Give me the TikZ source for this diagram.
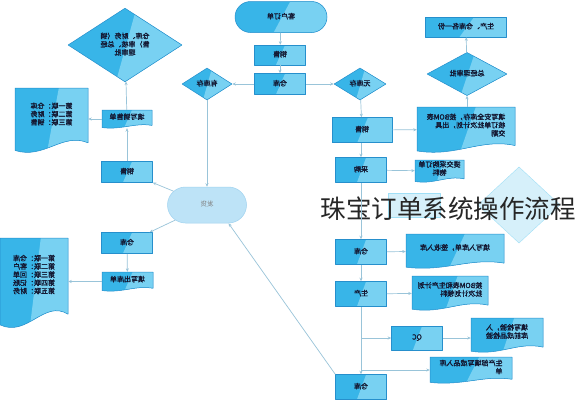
\documentclass[tikz,border=0pt]{standalone}
\usepackage{fontspec}
\setmainfont{Noto Sans CJK SC}[AutoFakeBold=2]
\usepackage{graphicx}
\usepackage{tikz}
\usetikzlibrary{arrows.meta,shapes.geometric,shapes.misc,calc}
\definecolor{boxdark}{rgb}{0.22,0.71,0.91}
\definecolor{boxlight}{rgb}{0.47,0.82,0.95}
\definecolor{boxline}{rgb}{0.15,0.56,0.80}
\definecolor{linecol}{rgb}{0.60,0.77,0.85}
\definecolor{palefill}{rgb}{0.74,0.89,0.97}
\definecolor{faintfill}{rgb}{0.84,0.94,0.98}
\definecolor{txtcol}{rgb}{0.08,0.10,0.20}
\renewcommand{\arraystretch}{0.95}
\newcommand{\mirc}[1]{\reflectbox{\begin{tabular}{@{}c@{}}#1\end{tabular}}}
\newcommand{\mirl}[1]{\reflectbox{\begin{tabular}{@{}l@{}}#1\end{tabular}}}
% wave document: name, x1, y1, x2, y2, text
\newcommand{\wavedoc}[6]{%
  \pgfmathsetmacro\dd{0.12*(#5-#3)}%
  \pgfmathsetmacro\ww{#4-#2}%
  \path[docshape] (#2,#3) -- (#4,#3) -- (#4,{#5-1.2*\dd})
    .. controls ({#4-0.35*\ww},{#5-2.6*\dd}) and ({#2+0.4*\ww},{#5+1.0*\dd}) .. (#2,{#5-0.2*\dd}) -- cycle;
  \node[doctext, minimum width={#4pt-#2pt}, minimum height={#5pt-#3pt}] (#1)
    at ({(#2+#4)/2},{(#3+#5)/2}) {};
  \node[doctext] at ({(#2+#4)/2},{(#3+#5)/2-0.08*(#5-#3)}) {#6};
}

\begin{document}
\begin{tikzpicture}[x=1pt,y=-1pt,line join=bevel,
  every node/.style={text=txtcol, font=\fontsize{7}{8}\selectfont\bfseries},
  twotone/.style={fill=boxdark, path picture={
    \fill[boxlight] ($(path picture bounding box.north west)!0.6!(path picture bounding box.north east)$)
      -- (path picture bounding box.north east) -- (path picture bounding box.south east)
      -- ($(path picture bounding box.south west)!0.42!(path picture bounding box.south east)$) -- cycle;}},
  box/.style={rectangle, draw=boxline, line width=0.5pt, twotone,
    minimum width=51pt, minimum height=22pt, inner sep=1pt},
  dia/.style={diamond, draw=boxline, line width=0.5pt, twotone, inner sep=0pt},
  oval/.style={rounded rectangle, draw=boxline, line width=0.5pt, twotone, inner sep=0pt},
  docshape/.style={draw=boxline, line width=0.5pt, twotone},
  doctext/.style={inner sep=0pt},
  faint/.style={draw=boxlight!70, fill=faintfill, line width=0.4pt},
  arr/.style={draw=linecol, line width=0.7pt, -{Stealth[length=3.5pt,width=3pt]}},
  ttl/.style={text=black!85, font=\fontsize{25.5}{26}\selectfont\mdseries, inner sep=0pt}]
\useasboundingbox (0,0) rectangle (577,400);
\fill[white] (0,0) rectangle (577,400);
%% faint shapes under the title
\path[faint] (388,193) rectangle (440,217);
\path[faint] (519,167) -- (560,205) -- (519,243) -- (478,205) -- cycle;
%% centre column
% Node: order
\node[oval, minimum width=92pt, minimum height=31pt] (order) at (281,17) {\mirc{客户订单}};
% Node: sales1
\node[box, minimum height=20pt] (sales1) at (280,55) {\mirc{销售}};
% Node: wh1
\node[box, minimum height=21pt] (wh1) at (280,84) {\mirc{仓库}};
% Node: instock
\node[dia, minimum width=50pt, minimum height=32pt] (instock) at (207,84) {\mirc{有库存}};
% Node: nostock
\node[dia, minimum width=52pt, minimum height=32pt] (nostock) at (360,84) {\mirc{无库存}};
%% right column
% Node: sales2
\node[box, minimum width=60pt, minimum height=25pt] (sales2) at (362,130) {\mirc{销售}};
% Node: purch
\node[box, minimum height=25pt] (purch) at (361,170) {\mirc{采购}};
% Node: wh2
\node[box, minimum height=25pt] (wh2) at (361,252) {\mirc{仓库}};
% Node: prod
\node[box, minimum height=25pt] (prod) at (361,294) {\mirc{生产}};
% Node: qc
\node[box, minimum height=24pt] (qc) at (417,338) {\mirc{QC}};
% Node: wh3
\node[box, minimum height=25pt] (wh3) at (361,387) {\mirc{仓库}};
% Node: gmok
\node[dia, minimum width=80pt, minimum height=32pt] (gmok) at (467,74) {\mirc{总经理审批}};
% Node: copies
\node[box, minimum width=81pt, minimum height=20pt] (copies) at (466,27) {\mirc{生产、仓库各一份}};
\wavedoc{plan}{417}{107}{515}{152}{\mirl{填写安全库存，按BOM表\\核订单批次计划，出具\\交期}}
\wavedoc{buydoc}{415}{160}{464}{182}{\mirc{提交采购订单\\物料}}
\wavedoc{indoc}{406}{234}{504}{268}{\mirc{填写入库单，签收入库}}
\wavedoc{matdoc}{412}{276}{488}{310}{\mirl{按BOM表和生产计划\\批次计划领料}}
\wavedoc{qcdoc}{471}{318}{543}{352}{\mirl{填写检验，入\\库前成品检验}}
\wavedoc{findoc}{430}{357}{512}{383}{\mirl{生产部填写成品入库\\单}}
%% left side
% Node: audit
\node[dia, minimum width=114pt, minimum height=70pt] (audit) at (125,45) {\mirc{仓库、财务（销\\售）审核、总经\\理审批}};
% Node: ship
\node[oval, fill=palefill, path picture={}, draw=palefill!80!boxline,
  minimum width=79pt, minimum height=36pt, font=\fontsize{6.5}{7.5}\selectfont, text=black!50] (ship) at (207,205) {\mirc{发货}};
% Node: sales3
\node[box, minimum height=21pt] (sales3) at (127,172) {\mirc{销售}};
% Node: wh0
\node[box, minimum height=21pt] (wh0) at (127,243) {\mirc{仓库}};
\wavedoc{saleform}{102}{110}{152}{128}{\mirc{填写销售单}}
\wavedoc{copy3}{15}{88}{88}{152}{\mirl{第一联：仓库\\第二联：财务\\第三联：销售}}
\wavedoc{outform}{102}{272}{153}{291}{\mirc{填写出库单}}
\wavedoc{copy5}{0}{238}{68}{327}{\mirl{第一联：仓库\\第二联：客户\\第三联：回单\\第四联：记账\\第五联：财务}}
%% title
\node[ttl] (title) at (448,209) {珠宝订单系统操作流程};
%% edges
% Edge: order -> sales1
\draw[arr] (order) -- (sales1);
% Edge: sales1 -> wh1
\draw[arr] (sales1) -- (wh1);
% Edge: wh1 -> instock
\draw[arr] (wh1) -- (instock);
% Edge: wh1 -> nostock
\draw[arr] (wh1) -- (nostock);
% Edge: instock -> ship
\draw[arr] (instock) -- (ship);
% Edge: nostock -> sales2
\draw[arr] (nostock) -- (sales2);
% Edge: sales2 -> plan
\draw[arr] (sales2) -- (plan);
% Edge: plan -> gmok
\draw[arr] (plan.north -| gmok) -- (gmok);
% Edge: gmok -> copies
\draw[arr] (gmok) -- (copies);
% Edge: sales2 -> purch
\draw[arr] (sales2.south -| purch) -- (purch);
% Edge: purch -> buydoc
\draw[arr] (purch) -- (buydoc);
% Edge: purch -> wh2
\draw[arr] (purch) -- (wh2);
% Edge: wh2 -> indoc
\draw[arr] (wh2) -- (indoc);
% Edge: wh2 -> prod
\draw[arr] (wh2) -- (prod);
% Edge: prod -> matdoc
\draw[arr] (prod) -- (matdoc);
% Edge: prod -> wh3
\coordinate (qcj) at (prod |- qc);
\coordinate (finj) at (prod |- findoc.west);
\draw[arr] (prod) -- (wh3);
\draw[arr] (qcj) -- (qc);
\draw[arr] (finj) -- (finj -| findoc.west);
% Edge: qc -> qcdoc
\draw[arr] (qc) -- (qc -| qcdoc.west);
% Edge: wh3 -> ship
\draw[arr] (wh3.north west) -- (ship.south east);
% Edge: ship -> sales3
\draw[arr] (ship) -- (sales3);
% Edge: sales3 -> saleform
\draw[arr] (sales3) -- (saleform);
% Edge: saleform -> audit
\draw[arr] (saleform) -- (audit);
% Edge: saleform -> copy3
\draw[arr] (saleform) -- (saleform -| copy3.east);
% Edge: ship -> wh0
\draw[arr] (ship) -- (wh0);
% Edge: wh0 -> outform
\draw[arr] (wh0) -- (outform);
% Edge: outform -> copy5
\draw[arr] (outform) -- (outform -| copy5.east);
\end{tikzpicture}
\end{document}
